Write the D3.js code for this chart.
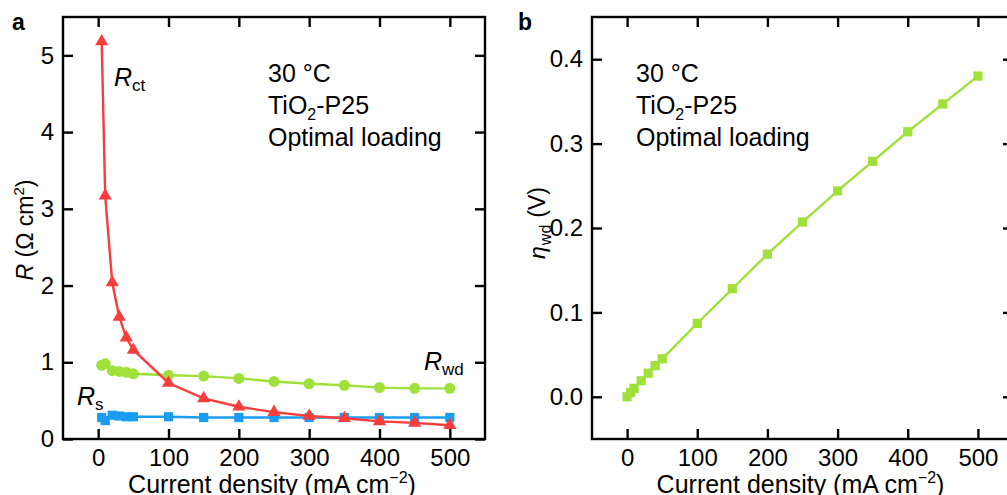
<!DOCTYPE html>
<html>
<head>
<meta charset="utf-8">
<script src="https://cdn.jsdelivr.net/npm/d3@7"></script>
<style>
  html, body { margin: 0; padding: 0; background: #fff; }
  svg { display: block; font-family: "Liberation Sans", Arial, sans-serif; }
  text { white-space: pre; }
</style>
</head>
<body>
<svg id="chart" width="1007" height="495"></svg>
<script>
// Current densities (mA cm^-2)
const currentA = [5, 10, 20, 30, 40, 50, 100, 150, 200, 250, 300, 350, 400, 450, 500];
// Resistances (Ohm cm^2)
const rct = [5.18, 3.17, 2.04, 1.59, 1.32, 1.16, 0.73, 0.53, 0.42, 0.35, 0.30, 0.27, 0.23, 0.21, 0.18];
const rwd = [0.96, 0.98, 0.89, 0.88, 0.87, 0.85, 0.83, 0.82, 0.79, 0.75, 0.72, 0.70, 0.67, 0.66, 0.66];
const rs  = [0.28, 0.24, 0.31, 0.30, 0.29, 0.29, 0.29, 0.28, 0.28, 0.28, 0.28, 0.28, 0.28, 0.28, 0.28];

// Water-dissociation overpotential (V)
const currentB = [0, 5, 10, 20, 30, 40, 50, 100, 150, 200, 250, 300, 350, 400, 450, 500];
const etaWd = [0.000, 0.005, 0.010, 0.019, 0.028, 0.037, 0.045, 0.087, 0.128, 0.169, 0.207, 0.244, 0.279, 0.314, 0.347, 0.380];

const xTicks = [0, 100, 200, 300, 400, 500];
const yTicksA = [0, 1, 2, 3, 4, 5];
const yTicksB = [0.0, 0.1, 0.2, 0.3, 0.4];
const notes = ["30 °C", "TiO2-P25", "Optimal loading"];

const RED = "#f93c3c", GREEN = "#9fe03a", BLUE = "#1a9cf0";
const FS = 24;     // tick labels
const FT = 25;     // titles and notes

const svg = d3.select("#chart");

function frame(g, x, y, yTicks, yFmt) {
  const [x0, x1] = x.range();
  const [y0, y1] = y.range(); // y0 bottom, y1 top
  const tl = 10;
  // tick marks on all four sides, pointing inward
  g.append("g").attr("transform", `translate(0,${y0})`)
    .call(d3.axisBottom(x).tickValues(xTicks).tickSizeInner(-tl).tickSizeOuter(0).tickPadding(10).tickFormat(d3.format("d")));
  g.append("g").attr("transform", `translate(0,${y1})`)
    .call(d3.axisTop(x).tickValues(xTicks).tickSizeInner(-tl).tickSizeOuter(0).tickFormat(""));
  g.append("g").attr("transform", `translate(${x0},0)`)
    .call(d3.axisLeft(y).tickValues(yTicks).tickSizeInner(-tl).tickSizeOuter(0).tickPadding(9).tickFormat(yFmt));
  g.append("g").attr("transform", `translate(${x1},0)`)
    .call(d3.axisRight(y).tickValues(yTicks).tickSizeInner(-tl).tickSizeOuter(0).tickFormat(""));
  g.selectAll(".domain").remove();
  g.selectAll(".tick line").attr("stroke", "#000").attr("stroke-width", 2.4);
  g.selectAll(".tick text").attr("font-size", FS).attr("fill", "#000")
    .attr("font-family", "'Liberation Sans', Arial, sans-serif");
  g.append("rect").attr("x", x0).attr("y", y1).attr("width", x1 - x0).attr("height", y0 - y1)
    .attr("fill", "none").attr("stroke", "#000").attr("stroke-width", 2.4);
}

function series(g, x, y, xs, ys, color, shape, size) {
  const pts = xs.map((d, i) => [d, ys[i]]);
  g.append("path").datum(pts)
    .attr("fill", "none").attr("stroke", color).attr("stroke-width", 2.4)
    .attr("d", d3.line().x(d => x(d[0])).y(d => y(d[1])));
  g.selectAll(null).data(pts).enter().append("path")
    .attr("transform", d => `translate(${x(d[0])},${y(d[1])})`)
    .attr("d", d3.symbol().type(shape).size(size))
    .attr("fill", color);
}

function noteBlock(g, x0, yStart) {
  notes.forEach((t, i) => {
    const txt = g.append("text").attr("x", x0).attr("y", yStart + i * 32)
      .attr("font-size", FT).attr("fill", "#000");
    if (t.startsWith("TiO2")) {
      txt.append("tspan").text("TiO");
      txt.append("tspan").attr("font-size", 16).attr("dy", 6).text("2");
      txt.append("tspan").attr("dy", -6).text("-P25");
    } else {
      txt.text(t);
    }
  });
}

function rLabel(g, x0, yb, sub) {
  const t = g.append("text").attr("x", x0).attr("y", yb).attr("font-size", FT).attr("fill", "#000");
  t.append("tspan").attr("font-style", "italic").text("R");
  t.append("tspan").attr("font-size", 17).attr("dy", 5).text(sub);
}

function xTitle(g, cx) {
  g.append("text").attr("x", cx).attr("y", 493).attr("text-anchor", "middle")
    .attr("font-size", FT)
    .call(t => {
      t.append("tspan").text("Current density (mA cm");
      t.append("tspan").attr("font-size", 16).attr("dy", -10).text("\u22122");
      t.append("tspan").attr("dy", 10).text(")");
    });
}

// ---------- panel a ----------
const xa = d3.scaleLinear().domain([-50, 550]).range([63, 485]);
const ya = d3.scaleLinear().domain([0, 5.5]).range([439, 17]);
const ga = svg.append("g");
frame(ga, xa, ya, yTicksA, d3.format("d"));
series(ga, xa, ya, currentA, rs, BLUE, d3.symbolSquare, 85);
series(ga, xa, ya, currentA, rwd, GREEN, d3.symbolCircle, 95);
series(ga, xa, ya, currentA, rct, RED, d3.symbolTriangle, 75);
noteBlock(ga, 268, 82);
rLabel(ga, 114, 86, "ct");
rLabel(ga, 424, 370, "wd");
rLabel(ga, 77, 405, "s");

ga.append("text").attr("x", 12).attr("y", 30).attr("font-size", 23).attr("font-weight", "bold").text("a");
xTitle(ga, (63 + 485) / 2 - 2);
ga.append("text").attr("transform", "translate(33,230) rotate(-90)").attr("text-anchor", "middle")
  .attr("font-size", 23)
  .call(t => {
    t.append("tspan").attr("font-style", "italic").text("R");
    t.append("tspan").text(" (\u03A9 cm");
    t.append("tspan").attr("font-size", 15).attr("dy", -9).text("2");
    t.append("tspan").attr("dy", 9).text(")");
  });

// ---------- panel b ----------
const xb = d3.scaleLinear().domain([-50, 550]).range([592, 1013]);
const yb = d3.scaleLinear().domain([-0.05, 0.45]).range([439, 17]);
const gb = svg.append("g");
frame(gb, xb, yb, yTicksB, d3.format(".1f"));
series(gb, xb, yb, currentB, etaWd, GREEN, d3.symbolSquare, 85);
noteBlock(gb, 636, 82);

gb.append("text").attr("x", 518).attr("y", 30).attr("font-size", 23).attr("font-weight", "bold").text("b");
xTitle(gb, (592 + 1013) / 2 - 2);
gb.append("text").attr("transform", "translate(545,223) rotate(-90)").attr("text-anchor", "middle")
  .attr("font-size", 23)
  .call(t => {
    t.append("tspan").attr("font-style", "italic").text("\u03B7");
    t.append("tspan").attr("font-size", 16).attr("dy", 6).attr("dx", 1).text("wd");
    t.append("tspan").attr("dy", -6).attr("dx", 7).text("(V)");
  });
</script>
</body>
</html>
